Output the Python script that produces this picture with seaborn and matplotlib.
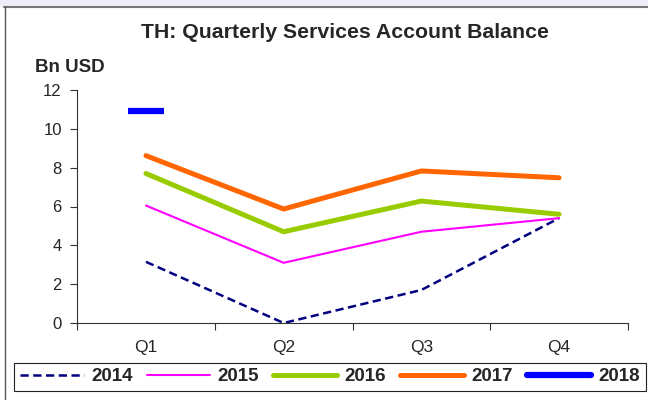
import numpy as np
import pandas as pd
import matplotlib
matplotlib.use("Agg")
import matplotlib.pyplot as plt
from matplotlib.lines import Line2D
from matplotlib.patches import Rectangle
import seaborn as sns

quarters = ["Q1", "Q2", "Q3", "Q4"]
years = ["2014", "2015", "2016", "2017", "2018"]
v2014 = [3.15, 0.0, 1.7, 5.4]
v2015 = [6.05, 3.1, 4.7, 5.4]
v2016 = [7.7, 4.7, 6.28, 5.6]
v2017 = [8.62, 5.87, 7.83, 7.48]
v2018 = [10.92, np.nan, np.nan, np.nan]

colors = ["#000080", "#FF00FF", "#99CC00", "#FF6600", "#0000FF"]
widths = [1.8, 1.5, 3.6, 3.6, 4.5]
dashes = [(3.3, 1.8), None, None, None, None]

sns.set_style("white")
plt.rcParams["font.family"] = ["Liberation Sans", "DejaVu Sans"]

fig = plt.figure(figsize=(6.48, 4.0), dpi=100)
ax = fig.add_axes([0.119, 0.1925, 0.85, 0.5825])

series = [v2014, v2015, v2016, v2017, v2018]
df = pd.DataFrame({
    "quarter": quarters * len(years),
    "year": np.repeat(years, len(quarters)),
    "value": np.concatenate(series),
})
df["pos"] = np.tile(np.arange(len(quarters)), len(years))

handles = []
for yr, c, lw, ds in zip(years, colors, widths, dashes):
    sub = df[df["year"] == yr].dropna()
    if len(sub) > 1:
        sns.lineplot(data=sub, x="pos", y="value", ax=ax, color=c, linewidth=lw,
                     linestyle="--" if ds else "-", legend=False)
        if ds:
            ax.lines[-1].set_dashes(ds)
    else:
        sns.scatterplot(data=sub, x="pos", y="value", ax=ax, color=c, marker="_",
                        s=26 ** 2, linewidth=lw, legend=False)
    h = Line2D([0], [0], color=c, linewidth=lw, solid_capstyle="round")
    if ds:
        h.set_linestyle("--")
        h.set_dashes(ds)
    handles.append(h)

ax.set_xlim(-0.5, len(quarters) - 0.5)
ax.set_ylim(0, 12)
ax.set_yticks(range(0, 13, 2))
ax.set_xticks(range(len(quarters)))
ax.set_xticklabels(quarters)
ax.set_xticks(np.arange(-0.5, len(quarters), 1.0), minor=True)
ax.tick_params(axis="x", which="major", length=0, pad=12, labelsize=12.5)
ax.tick_params(axis="x", which="minor", length=5, width=0.8, color="#333333", direction="out", bottom=True)
ax.tick_params(axis="y", length=5, width=0.8, color="#333333", direction="out", left=True, labelsize=12, pad=6)
ax.set_xlabel("")
ax.set_ylabel("")
for side in ["top", "right"]:
    ax.spines[side].set_visible(False)
for side in ["left", "bottom"]:
    ax.spines[side].set_color("#333333")
    ax.spines[side].set_linewidth(0.8)

fig.text(0.532, 0.905, "TH: Quarterly Services Account Balance", ha="center", va="baseline",
         fontsize=15.3, fontweight="bold")
fig.text(0.054, 0.82, "Bn USD", ha="left", va="baseline", fontsize=13.5, fontweight="bold")

# slide band and frame
fig.patches.append(Rectangle((0, 0.982), 1, 0.018, transform=fig.transFigure,
                             facecolor="#EEEEF8", edgecolor="none", zorder=0))
fig.add_artist(Line2D([0.006, 1.0], [0.982, 0.982], transform=fig.transFigure,
                      color="#777777", linewidth=1.5))
fig.add_artist(Line2D([0.007, 0.007], [0.0, 0.982], transform=fig.transFigure,
                      color="#555555", linewidth=1.0))

leg = fig.legend(handles, years, loc="center", bbox_to_anchor=(0.509, 0.058), ncol=5,
                 frameon=True, fancybox=False, edgecolor="#222222", framealpha=1,
                 prop={"weight": "bold", "size": 13.5}, handlelength=3.4,
                 handletextpad=0.4, columnspacing=0.75, borderpad=0.3, borderaxespad=0)
leg.get_frame().set_linewidth(0.8)

fig.savefig("out.png", dpi=100)
